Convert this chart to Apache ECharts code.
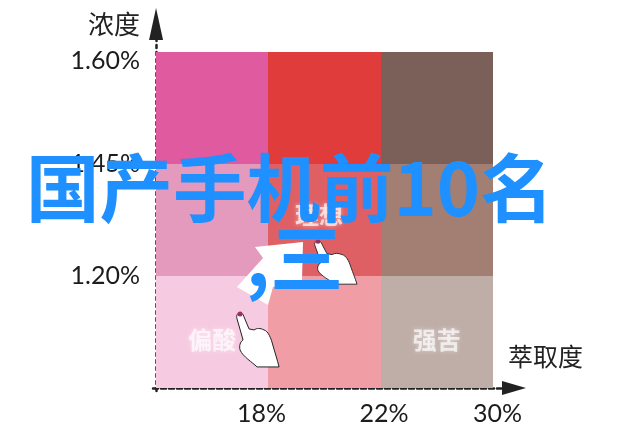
<!DOCTYPE html>
<html>
<head>
<meta charset="utf-8">
<style>html,body{margin:0;padding:0;background:#fff}#c{width:640px;height:428px}</style>
<script src="https://cdn.jsdelivr.net/npm/echarts@6/dist/echarts.min.js"></script>
</head>
<body>
<div id="c"></div>
<script>
const xColumns = [0, 1, 2];
const yRows = [0, 1, 2];
const xTickPositions = [0.94, 2.03, 3.04];
const xTickLabels = ['18%', '22%', '30%'];
const yTickPositions = [1.0, 2.0, 2.92];
const yTickLabels = ['1.20%', '1.45%', '1.60%'];
const cellNotes = [[0.5, 0.43, '偏酸'], [1.45, 1.55, '理想'], [2.5, 0.43, '强苦']];
const handPoints = [[0.748, 0.67], [1.442, 1.3125]];
const xName = '萃取度';
const yName = '浓度';
const overlayTitle = '国产手机前10名';
const overlaySub = ',三';

const handScaleY = [1, 0.8];
const cellColors = [
  ['#F6CBE1', '#F09DA5', '#BFAEA8'],
  ['#E49ABD', '#DE6065', '#A27F72'],
  ['#DF5A9E', '#E03C3C', '#7A6058']
];
const cells = [];
yRows.forEach(r => xColumns.forEach(c => cells.push([c, r])));

const handPath = 'M0,0 C-3,0 -4,3 -3,6 L3,27 C0,29 -1,33 0,37 C3,44 12,49 17,54 L39,54 C37,46 35,40 33,33 C31,25 28,18 24,17 C20,15 17,15 14,17 L9,16 L4,4 C3,1 2,0 0,0 Z';
const chart = echarts.init(document.getElementById('c'), null, { renderer: 'canvas' });
chart.setOption({
  animation: false,
  backgroundColor: '#fff',
  grid: { left: 153, right: 126, top: 24, bottom: 37 },
  xAxis: {
    type: 'value', min: -0.027, max: 3.187, splitLine: { show: false },
    name: xName, nameLocation: 'end', nameGap: -6, nameMoveOverlap: false,
    nameTextStyle: { fontFamily: 'Noto Sans CJK SC', fontSize: 25, color: '#222', align: 'left', verticalAlign: 'bottom', padding: [0, 0, 19, 0] },
    axisLine: { show: true, symbol: ['none', 'triangle'], symbolSize: [14, 24], lineStyle: { color: '#222', width: 2.5, type: [5, 3] } },
    axisTick: { show: false },
    axisLabel: {
      customValues: xTickPositions, margin: 10,
      formatter: v => xTickLabels[xTickPositions.indexOf(v)] || '',
      fontFamily: 'Lato', fontSize: 25, color: '#1c1c1c'
    }
  },
  yAxis: {
    type: 'value', min: -0.027, max: 3.25, splitLine: { show: false },
    name: yName, nameLocation: 'end', nameGap: 0, nameMoveOverlap: false,
    nameTextStyle: { fontFamily: 'Noto Sans CJK SC', fontSize: 26, color: '#222', align: 'right', verticalAlign: 'middle', padding: [0, 16, 26, 0] },
    axisLine: { show: true, symbol: ['none', 'triangle'], symbolSize: [14, 32], lineStyle: { color: '#222', width: 2.5, type: [3, 4] } },
    axisTick: { show: false },
    axisLabel: {
      customValues: yTickPositions, margin: 13,
      formatter: v => yTickLabels[yTickPositions.indexOf(v)] || '',
      fontFamily: 'Lato', fontSize: 25, color: '#1c1c1c'
    }
  },
  series: [
    {
      type: 'custom', data: cells, clip: false, silent: true, z: 1,
      encode: { x: 0, y: 1 },
      renderItem(params, api) {
        const c = api.value(0), r = api.value(1);
        const a = api.coord([c, r + 1]), b = api.coord([c + 1, r]);
        const x0 = Math.round(a[0]), y0 = Math.round(a[1]), x1 = Math.round(b[0]), y1 = Math.round(b[1]);
        return {
          type: 'rect',
          shape: { x: x0, y: y0, width: x1 - x0, height: y1 - y0 },
          style: { fill: cellColors[r][c] }
        };
      }
    },
    {
      type: 'scatter', data: cellNotes, symbolSize: 0, silent: true, z: 2,
      label: {
        show: true, position: 'inside', formatter: p => p.value[2],
        fontFamily: 'Noto Sans CJK SC', fontWeight: 'bold', fontSize: 24, color: 'rgba(255,255,255,0.85)',
        textShadowColor: 'rgba(255,255,255,0.7)', textShadowBlur: 4
      }
    },
    {
      type: 'custom', data: handPoints, clip: false, silent: true, z: 20,
      encode: { x: 0, y: 1 },
      renderItem(params, api) {
        const p = api.coord([api.value(0), api.value(1)]);
        return {
          type: 'group', x: p[0], y: p[1], scaleY: handScaleY[params.dataIndex],
          children: [
            { type: 'path', shape: { pathData: handPath }, style: { fill: '#fff', stroke: '#222', lineWidth: 1 } },
            { type: 'circle', shape: { cx: 0, cy: 1, r: 2.5 }, style: { fill: '#9A2F62' } }
          ]
        };
      }
    }
  ],
  graphic: [
    { type: 'polygon', z: 15, shape: { points: [[255, 247], [303, 242], [302, 280], [273, 287], [268, 305], [237, 287], [263, 258]] }, style: { fill: '#fff' } },
    { type: 'text', z: 30, x: 26, y: 188, style: { text: overlayTitle, fontFamily: 'Noto Sans CJK SC', fontWeight: 'bold', fontSize: 73.5, fill: '#1E90FF', verticalAlign: 'middle' } },
    { type: 'text', z: 30, x: 246, y: 258, style: { text: overlaySub, fontFamily: 'Noto Sans CJK SC', fontWeight: 'bold', fontSize: 73.5, fill: '#1E90FF', verticalAlign: 'middle' } }
  ]
});
</script>
</body>
</html>
